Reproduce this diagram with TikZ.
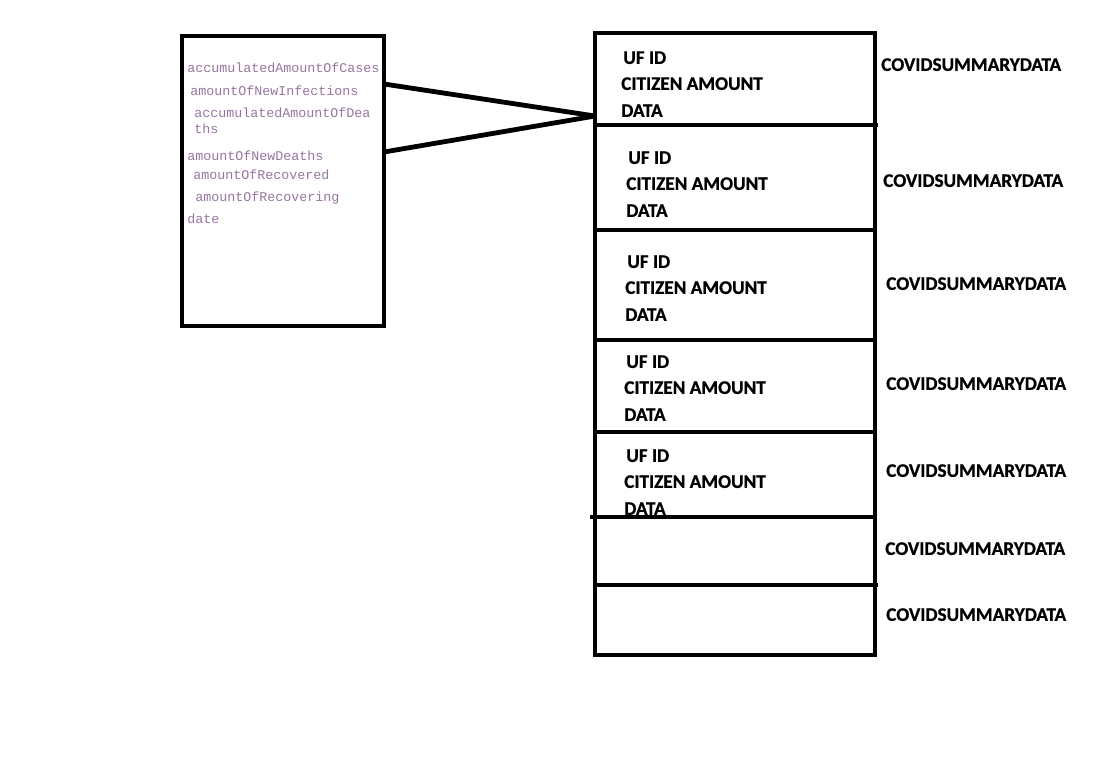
\documentclass[tikz,border=0pt]{standalone}
\usepackage{fontspec}
\newfontfamily\fieldfont{Liberation Mono}
\newfontfamily\labelfont{Carlito}[BoldFont={* Bold},BoldFeatures={FakeBold=0.8}]
\definecolor{fieldcol}{RGB}{150,118,160}
\begin{document}
\begin{tikzpicture}[x=0.75pt,y=-0.75pt,
  frame/.style={draw=black,line width=3.6pt},
  rule/.style={draw=black,line width=3.6pt},
  link/.style={draw=black,line width=3.6pt},
  field/.style={anchor=mid west,inner sep=0pt,text=fieldcol,font=\fieldfont\fontsize{10pt}{11pt}\selectfont},
  entry/.style={anchor=mid west,inner sep=0pt,font=\labelfont\bfseries\fontsize{14.4pt}{16pt}\selectfont},
  tag/.style={anchor=mid west,inner sep=0pt,font=\labelfont\bfseries\fontsize{14.4pt}{16pt}\selectfont}]
\useasboundingbox (0,0) rectangle (1112,776);
\fill[white] (0,0) rectangle (1112,776);

% attribute list box
\node[frame,minimum width=202*0.75pt,minimum height=290*0.75pt,inner sep=0pt] (attrs) at (283,181) {};
\node[field] (f1) at (187,70) {accumulatedAmountOfCases};
\node[field] (f2) at (190,93) {amountOfNewInfections};
\node[field] (f3) at (194,115) {accumulatedAmountOfDea};
\node[field] (f3b) at (194,131) {ths};
\node[field] (f4) at (187,158) {amountOfNewDeaths};
\node[field] (f5) at (193,177) {amountOfRecovered};
\node[field] (f6) at (195,199) {amountOfRecovering};
\node[field] (f7) at (187,221) {date};

% stacked records
\node[frame,minimum width=280*0.75pt,minimum height=622*0.75pt,inner sep=0pt] (table) at (735,344) {};
\coordinate (d1l) at (595,125); \coordinate (d1r) at (878,125);
\coordinate (d2l) at (595,230); \coordinate (d2r) at (876,230);
\coordinate (d3l) at (595,340); \coordinate (d3r) at (875,340);
\coordinate (d4l) at (595,432); \coordinate (d4r) at (877,432);
\coordinate (d5l) at (590,517); \coordinate (d5r) at (875,517);
\coordinate (d6l) at (595,585); \coordinate (d6r) at (878,585);
\foreach \i in {1,...,6} \draw[rule] (d\i l) -- (d\i r);

% record contents
\foreach \n/\x/\y in {1/623/61, 2/628/161, 3/627/265, 4/626/365, 5/626/459} {
  \node[entry] (uf\n) at (\x,\y) {UF ID};
  \node[entry] (cit\n) at (\x-2,\y+26) {CITIZEN AMOUNT};
  \node[entry] (dat\n) at (\x-2,\y+53) {DATA};
}

% record labels
\foreach \n/\x/\y in {1/881/68, 2/883/184, 3/886/287, 4/886/387, 5/886/474, 6/885/552, 7/886/618}
  \node[tag] (lab\n) at (\x,\y) {COVIDSUMMARYDATA};

% connectors from the attribute box to the first record
\coordinate (tip) at (595,116);
\coordinate (a1) at (384,84);
\coordinate (a2) at (384,152);
\draw[link] (a1) -- (tip);
\draw[link] (a2) -- (tip);
\end{tikzpicture}
\end{document}
